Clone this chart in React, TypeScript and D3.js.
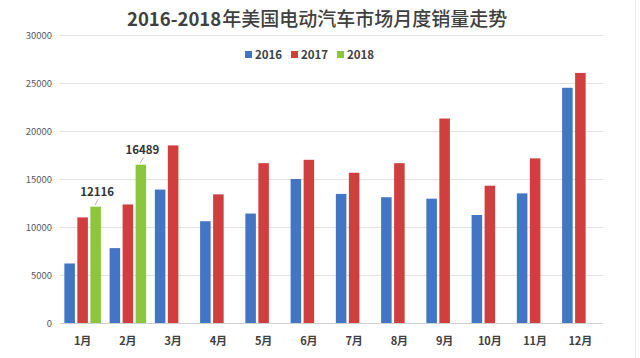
import React from "react";
import * as d3 from "d3";

const months = ["1月", "2月", "3月", "4月", "5月", "6月", "7月", "8月", "9月", "10月", "11月", "12月"];
const seriesNames = ["2016", "2017", "2018"];
const sales2016 = [6200, 7800, 13900, 10600, 11400, 15000, 13450, 13100, 12950, 11250, 13500, 24500];
const sales2017 = [11000, 12350, 18500, 13400, 16650, 17000, 15650, 16650, 21300, 14300, 17150, 26050];
const sales2018: (number | null)[] = [12116, 16489, null, null, null, null, null, null, null, null, null, null];
const yTicks = [0, 5000, 10000, 15000, 20000, 25000, 30000];
const colors = ["#4275c3", "#d03e3e", "#8cc63f"];

const W = 640;
const H = 358;
const FONT = "'Noto Sans CJK SC', 'Noto Sans', sans-serif";

export default function App() {
  const x0 = d3.scaleBand<string>().domain(months).range([60, 603]).paddingInner(0).paddingOuter(0);
  const x1 = d3
    .scaleBand<string>()
    .domain(seriesNames)
    .range([0, x0.bandwidth()])
    .paddingInner(0.19)
    .paddingOuter(0.335);
  const y = d3.scaleLinear().domain([0, 30000]).range([323, 35]);
  const data = [sales2016, sales2017, sales2018];

  return (
    <svg
      width={W}
      height={H}
      style={{ position: "fixed", left: 0, top: 0, background: "#fff" }}
      fontFamily={FONT}
    >
      <rect x={0} y={0} width={W} height={H} fill="#fff" />
      <line x1={635.5} x2={635.5} y1={0} y2={H} stroke="#e6e6e6" />
      {/* gridlines */}
      {yTicks.map((t) => (
        <g key={t}>
          <line x1={60} x2={603} y1={Math.round(y(t)) + 0.5} y2={Math.round(y(t)) + 0.5} stroke={t === 0 ? "#d0d0d0" : "#e0e0e0"} strokeWidth={1} />
          <text x={52} y={y(t) + 3.5} textAnchor="end" fontSize={9.5} fill="#595959">
            {t}
          </text>
        </g>
      ))}
      {/* bars */}
      {months.map((m, i) => (
        <g key={m} transform={`translate(${x0(m)},0)`}>
          {seriesNames.map((s, j) => {
            const v = data[j][i];
            if (v == null) return null;
            return (
              <rect
                key={s}
                x={x1(s)}
                y={y(v)}
                width={x1.bandwidth()}
                height={y(0) - y(v)}
                fill={colors[j]}
              />
            );
          })}
          <text
            x={x0.bandwidth() / 2}
            y={345}
            textAnchor="middle"
            fontSize={11}
            fontWeight="bold"
            fill="#404040"
          >
            {m}
          </text>
        </g>
      ))}
      {/* data labels for 2018 */}
      {months.map((m, i) => {
        const v = sales2018[i];
        if (v == null) return null;
        const cx = (x0(m) as number) + (x1("2018") as number) + x1.bandwidth() / 2;
        const top = y(v);
        return (
          <g key={"lbl" + m}>
            <line x1={cx - 0.7} y1={top - 1.5} x2={cx + 2.6} y2={top - 7.5} stroke="#a0a0a0" strokeWidth={0.8} />
            <text x={cx + 1.5} y={top - 11} textAnchor="middle" fontSize={11.5} fontWeight="bold" fill="#333">
              {v}
            </text>
          </g>
        );
      })}
      {/* title */}
      <text x={127} y={26} fill="#404040">
        <tspan fontSize={18.5} fontWeight="bold">2016-2018</tspan>
        <tspan fontSize={19} fontWeight={500} dx={1}>年美国电动汽车市场月度销量走势</tspan>
      </text>
      {/* legend */}
      {seriesNames.map((s, j) => {
        const lx = 245 + j * 46;
        return (
          <g key={"leg" + s}>
            <rect x={lx} y={51} width={7} height={7} fill={colors[j]} />
            <text x={lx + 10} y={58.5} fontSize={11.5} fontWeight="bold" fill="#404040">
              {s}
            </text>
          </g>
        );
      })}
    </svg>
  );
}
